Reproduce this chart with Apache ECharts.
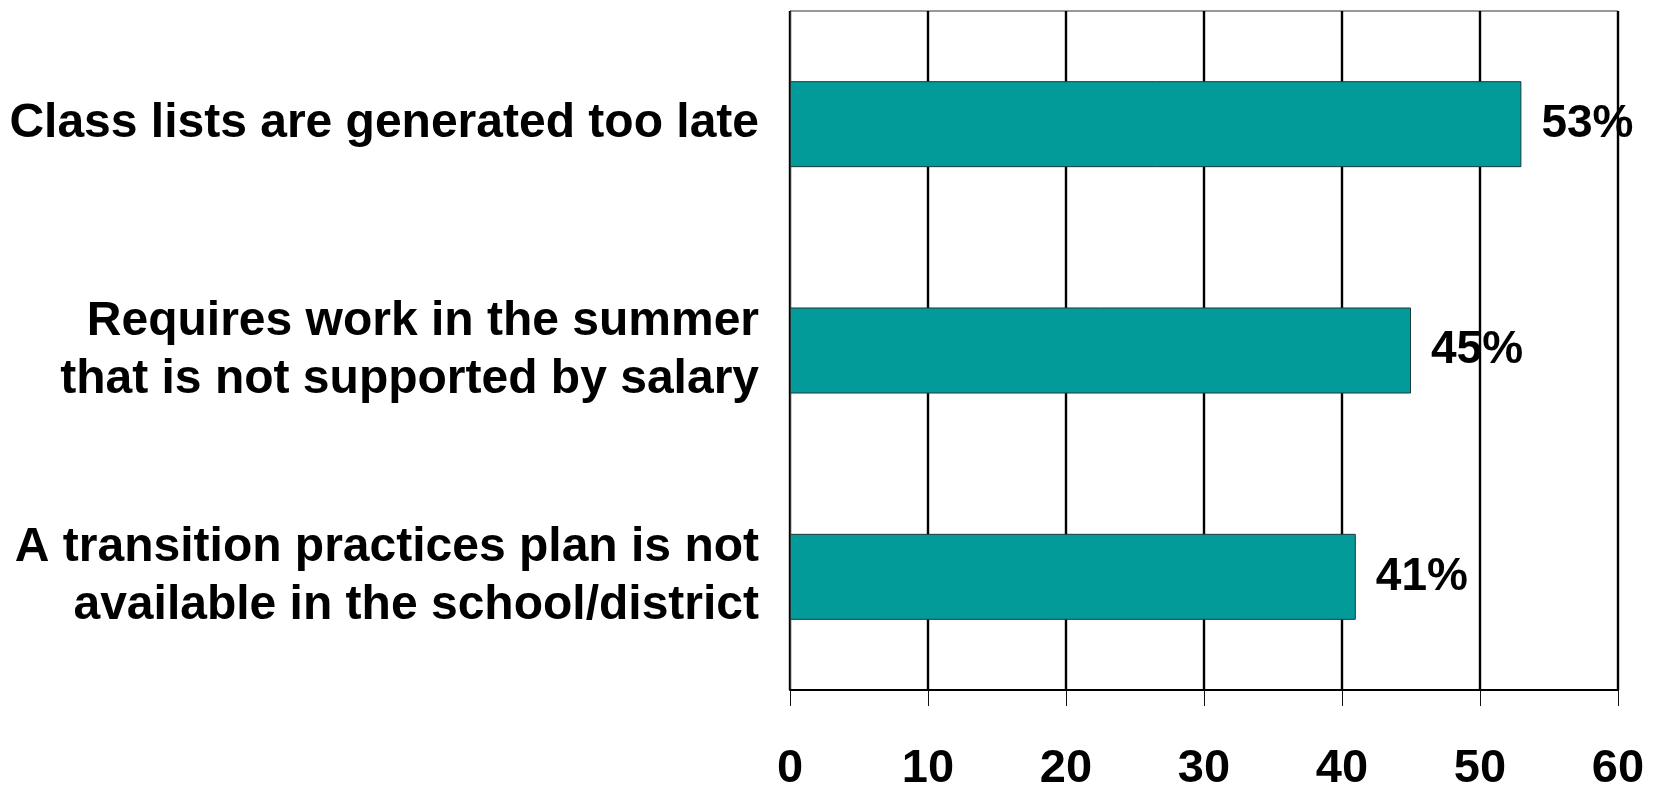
<!DOCTYPE html>
<html>
<head>
<meta charset="utf-8">
<script src="https://cdn.jsdelivr.net/npm/echarts@6/dist/echarts.min.js"></script>
<style>
  html, body { margin: 0; padding: 0; background: #ffffff; }
  #chart { width: 1655px; height: 788px; }
</style>
</head>
<body>
<div id="chart"></div>
<script>
// Survey reasons, listed top to bottom
const categories = [
  'Class lists are generated too late',
  'Requires work in the summer\nthat is not supported by salary',
  'A transition practices plan is not\navailable in the school/district'
];
// Percent of respondents for each reason
const percents = [53, 45, 41];
// Horizontal scale
const axisMin = 0;
const axisMax = 60;
const axisStep = 10;

const FONT = '"Liberation Sans", Arial, Helvetica, sans-serif';
const chart = echarts.init(document.getElementById('chart'), null, { renderer: 'canvas' });

chart.setOption({
  backgroundColor: '#ffffff',
  animation: false,
  grid: {
    left: 790,
    right: 37,
    top: 11,
    bottom: 98,
    outerBoundsMode: 'none',
    show: true,
    borderColor: '#333333',
    borderWidth: 1,
    backgroundColor: 'transparent'
  },
  xAxis: {
    type: 'value',
    min: axisMin,
    max: axisMax,
    interval: axisStep,
    axisLine: { show: true, lineStyle: { color: '#000000', width: 2 } },
    axisTick: { show: true, length: 16, lineStyle: { color: '#111111', width: 1 } },
    splitLine: { show: true, lineStyle: { color: '#000000', width: 2.4 } },
    axisLabel: {
      margin: 56,
      color: '#000000',
      fontFamily: FONT,
      fontWeight: 'bold',
      fontSize: 47
    }
  },
  yAxis: {
    type: 'category',
    data: categories,
    inverse: true,
    axisLine: { show: true, lineStyle: { color: '#333333', width: 1 } },
    axisTick: { show: false },
    splitLine: { show: false },
    axisLabel: {
      margin: 31,
      color: '#000000',
      fontFamily: FONT,
      fontWeight: 'bold',
      fontSize: 48,
      lineHeight: 58,
      align: 'right'
    }
  },
  series: [{
    type: 'bar',
    data: percents,
    barWidth: '38%',
    itemStyle: {
      color: '#039a9a',
      borderColor: '#1d3a3a',
      borderWidth: 1
    },
    label: {
      show: true,
      position: 'right',
      distance: 20,
      formatter: '{c}%',
      color: '#000000',
      fontFamily: FONT,
      fontWeight: 'bold',
      fontSize: 46
    }
  }]
});
</script>
</body>
</html>
